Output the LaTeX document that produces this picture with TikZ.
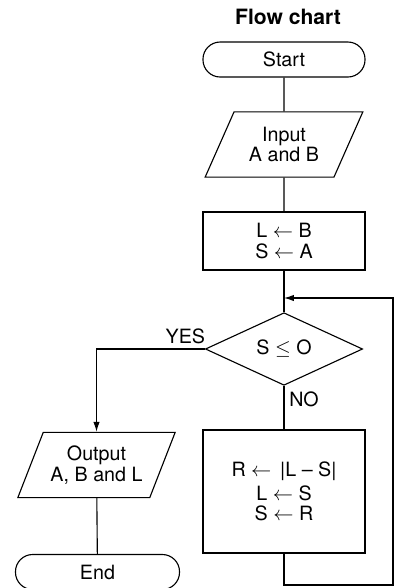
\documentclass[tikz,border=0pt]{standalone}
\usepackage{fontspec}
\setmainfont{TeX Gyre Heros}
\usepackage{tikz}
\usetikzlibrary{shapes.geometric}
\usetikzlibrary{arrows.meta}

\tikzset{
  terminal/.style={draw, rectangle, rounded corners=0.43cm, minimum width=4.05cm, minimum height=0.875cm, inner sep=0pt},
  iobox/.style={draw, trapezium, trapezium left angle=60, trapezium right angle=120, trapezium stretches=true, minimum width=3.95cm, minimum height=1.63cm, align=center, inner sep=0pt},
  process/.style={draw, rectangle, minimum width=4.05cm, align=center},
  decision/.style={draw, diamond, minimum width=3.93cm, minimum height=1.7cm, inner sep=0pt},
  flow/.style={-{Latex[length=7pt,width=4.5pt]}}
}

\begin{document}
\begin{tikzpicture}[x=0.025cm, y=-0.025cm, line width=0.8pt, font=\fontsize{14}{14.5}\selectfont]
        \useasboundingbox (0,0) rectangle (400,588);
        \node[font=\fontsize{15}{18}\selectfont\bfseries] (title) at (288,17) {Flow chart};
        
        % Colonna principale
        \node[terminal] (start) at (284,59.5) {Start};
        \node[iobox] (input) at (284,144.5) {Input\\A and B};
        \node[process, minimum height=1.45cm] (init) at (284,241) {L $\leftarrow$ B\\S $\leftarrow$ A};
        \node[decision] (test) at (284,349) {S $\leq$ O};
        \node[process, minimum height=3.075cm] (update) at (284,491.5) {R $\leftarrow$ \,|L -- S|\\[2pt]L $\leftarrow$ S\\S $\leftarrow$ R};
        
        % Ramo YES
        \node[iobox] (output) at (96.5,465) {Output\\A, B and L};
        \node[terminal, minimum width=4.1cm] (stop) at (97.5,572) {End};
        
        % Collegamenti
        \coordinate (join) at (284,298);
        \coordinate (corner) at (393,585);
        \draw (start) -- (input);
        \draw (input) -- (init);
        \draw (init) -- (test);
        \draw (test) -- node[pos=0.3, right] {NO} (update);
        \draw[flow] (test.west) -| node[pos=0.09, above] {YES} (output.north);
        \draw (output) -- (stop);
        
        % Ciclo di ritorno
        \draw[flow] (update.south) |- (corner) -- (corner |- join) -- (join);
    \end{tikzpicture}
\end{document}
